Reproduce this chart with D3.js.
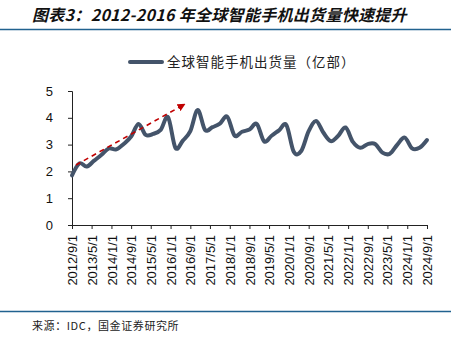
<!DOCTYPE html>
<html><head><meta charset="utf-8">
<script src="https://cdn.jsdelivr.net/npm/d3@7"></script>
<style>
body{margin:0;background:#fff;}
svg{display:block;}
</style>
</head><body>
<svg id="c" width="460" height="343"></svg>
<script>
// Quarterly shipments (亿部), 2012Q3 .. 2024Q3
const startDate = "2012-09-01";
const shipments = [
  1.85, 2.30,
  2.18, 2.40, 2.62, 2.86,
  2.82, 3.02, 3.30, 3.77,
  3.36, 3.40, 3.55, 4.02,
  2.88, 3.15, 3.50, 4.29,
  3.55, 3.65, 3.78, 4.04,
  3.34, 3.48, 3.56, 3.77,
  3.12, 3.33, 3.53, 3.73,
  2.73, 2.76, 3.50, 3.88,
  3.45, 3.13, 3.33, 3.64,
  3.10, 2.88, 3.02, 3.02,
  2.70, 2.66, 3.00, 3.26,
  2.86, 2.88, 3.17
];
const tickLabels = ["2012/9/1","2013/5/1","2014/1/1","2014/9/1","2015/5/1","2016/1/1","2016/9/1","2017/5/1","2018/1/1","2018/9/1","2019/5/1","2020/1/1","2020/9/1","2021/5/1","2022/1/1","2022/9/1","2023/5/1","2024/1/1","2024/9/1"];
const yTicks = [0,1,2,3,4,5];
const trendArrow = [{date:"2012-10-20", value:2.24},{date:"2016-06-25", value:4.51}];
const seriesName = "全球智能手机出货量（亿部）";
const titleText = "图表3：2012-2016 年全球智能手机出货量快速提升";
const sourceText = "来源：IDC，国金证券研究所";

const parse = d3.timeParse("%Y-%m-%d");
const parseTick = d3.timeParse("%Y/%-m/%-d");
const s0 = parse(startDate);
const data = shipments.map((v,i)=>({date:d3.timeMonth.offset(s0, 3*i), value:v}));
const tickDates = tickLabels.map(t=>parseTick(t));

const svg = d3.select("#c");
const L=72, R=427, T=91, B=225;
const x = d3.scaleTime().domain([tickDates[0], tickDates[tickDates.length-1]]).range([L,R]);
const y = d3.scaleLinear().domain([0,5]).range([B,T]);

// title
svg.append("text").attr("x",32).attr("y",21)
  .attr("font-family","'Noto Sans CJK SC', sans-serif")
  .attr("font-size",16).attr("font-weight","bold").attr("font-style","italic")
  .attr("letter-spacing",0.3)
  .attr("fill","#111").text(titleText);
svg.append("line").attr("x1",0).attr("x2",451).attr("y1",29.5).attr("y2",29.5)
  .attr("stroke","#21628F").attr("stroke-width",1.5);
svg.append("line").attr("x1",0).attr("x2",451).attr("y1",311.5).attr("y2",311.5)
  .attr("stroke","#21628F").attr("stroke-width",1.5);
svg.append("text").attr("x",32).attr("y",330)
  .attr("font-family","'Noto Sans CJK SC', sans-serif")
  .attr("font-size",11).attr("letter-spacing",0.6).attr("fill","#222").text(sourceText);

// legend
svg.append("line").attr("x1",130).attr("x2",162).attr("y1",62).attr("y2",62)
  .attr("stroke","#44546A").attr("stroke-width",4).attr("stroke-linecap","round");
svg.append("text").attr("x",167).attr("y",67)
  .attr("font-family","'Noto Sans CJK SC', sans-serif")
  .attr("font-size",13.5).attr("letter-spacing",1).attr("fill","#222").text(seriesName);

// y axis
const ya = svg.append("g").attr("transform",`translate(${L},0)`)
  .call(d3.axisLeft(y).tickValues(yTicks).tickSize(4).tickPadding(15).tickFormat(d3.format("d")));
ya.select(".domain").attr("stroke","#222");
ya.selectAll(".tick line").attr("stroke","#222");
ya.selectAll("text").attr("font-family","'Liberation Sans', Arial, sans-serif").attr("font-size",13).attr("fill","#111");

// x axis
const xa = svg.append("g").attr("transform",`translate(0,${B})`)
  .call(d3.axisBottom(x).tickValues(tickDates).tickSize(4).tickSizeOuter(0).tickFormat((d,i)=>tickLabels[i]));
xa.select(".domain").attr("stroke","#222");
xa.selectAll(".tick line").attr("stroke","#222");
xa.selectAll("text")
  .attr("font-family","'Liberation Sans', Arial, sans-serif").attr("font-size",13).attr("fill","#111")
  .attr("transform","rotate(-90)").attr("text-anchor","end")
  .attr("x",-10).attr("y",0).attr("dy","0.35em");

// series line
const line = d3.line().x(d=>x(d.date)).y(d=>y(d.value)).curve(d3.curveCardinal.tension(0));
svg.append("path").datum(data).attr("d",line)
  .attr("fill","none").attr("stroke","#44546A").attr("stroke-width",4)
  .attr("stroke-linejoin","round").attr("stroke-linecap","round");

// red dashed trend arrow
svg.append("defs").append("marker").attr("id","ah")
  .attr("viewBox","0 0 10 10").attr("refX",9).attr("refY",5)
  .attr("markerWidth",5).attr("markerHeight",5).attr("orient","auto")
  .append("path").attr("d","M0,0 L10,5 L0,10 z").attr("fill","#C00000");
const ta = trendArrow.map(d=>({date:parse(d.date), value:d.value}));
svg.append("path").datum(ta)
  .attr("d", d3.line().x(d=>x(d.date)).y(d=>y(d.value)))
  .attr("stroke","#C00000").attr("stroke-width",1.6).attr("stroke-dasharray","5,4")
  .attr("fill","none").attr("marker-end","url(#ah)");
</script>
</body></html>
